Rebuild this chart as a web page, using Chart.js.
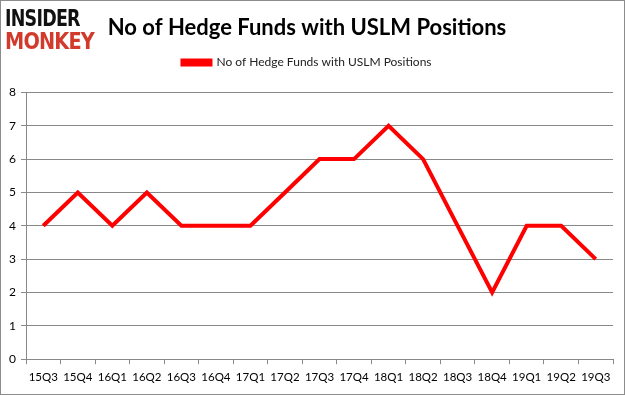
<!DOCTYPE html>
<html>
<head>
<meta charset="utf-8">
<script src="https://cdn.jsdelivr.net/npm/chart.js@4"></script>
<style>
  html, body { margin: 0; padding: 0; background: #fff; }
  #wrap { position: relative; width: 625px; height: 395px; box-sizing: border-box; border: 1px solid #8c8c8c; overflow: hidden; }
  #c { position: absolute; left: 0; top: 0; }
  .logo { position: absolute; left: 4px; font-family: "DejaVu Sans", sans-serif; font-weight: bold; font-size: 23px; line-height: 23px; letter-spacing: -1px; transform-origin: left top; }
  #l1 { top: 6px; color: #111; transform: scaleX(0.76); }
  #l2 { top: 29px; color: #d23b2b; transform: scaleX(0.84); }
</style>
</head>
<body>
<div id="wrap">
  <canvas id="c" width="623" height="393"></canvas>
  <div class="logo" id="l1">INSIDER</div>
  <div class="logo" id="l2">MONKEY</div>
</div>
<script>
const categories = ["15Q3","15Q4","16Q1","16Q2","16Q3","16Q4","17Q1","17Q2","17Q3","17Q4","18Q1","18Q2","18Q3","18Q4","19Q1","19Q2","19Q3"];
const seriesName = "No of Hedge Funds with USLM Positions";
const values = [4,5,4,5,4,4,4,5,6,6,7,6,4,2,4,4,3];
const yTicks = [0,1,2,3,4,5,6,7,8];
const titleText = "No of Hedge Funds with USLM Positions";

const legendGap = {
  id: 'legendGap',
  beforeUpdate(chart) {
    const lg = chart.legend;
    if (lg && !lg._gapPatched) {
      const orig = lg.fit;
      lg.fit = function () { orig.call(this); this.height += 14; };
      lg._gapPatched = true;
    }
  }
};

new Chart(document.getElementById('c'), {
  type: 'line',
  data: {
    labels: categories,
    datasets: [{
      label: seriesName,
      data: values,
      borderColor: '#ff0000',
      backgroundColor: '#ff0000',
      borderWidth: 4,
      pointRadius: 0,
      tension: 0,
      fill: false
    }]
  },
  options: {
    responsive: false,
    animation: false,
    devicePixelRatio: 1,
    layout: { padding: { left: 0, right: 11, top: 8, bottom: 4 } },
    plugins: {
      title: {
        display: true,
        text: titleText,
        color: '#000',
        font: { family: 'Lato', size: 22, weight: 'bold' },
        padding: { top: 6, bottom: 3 }
      },
      legend: {
        display: true,
        labels: {
          color: '#222',
          font: { family: 'Lato', size: 12 },
          boxWidth: 28,
          boxHeight: 4,
          padding: 12,
          usePointStyle: false
        }
      },
      tooltip: { enabled: false }
    },
    scales: {
      x: {
        offset: true,
        grid: { offset: true, drawOnChartArea: false, drawTicks: true, tickLength: 5, color: '#888' },
        border: { color: '#888', width: 1 },
        ticks: { color: '#000', font: { family: 'Lato', size: 11.5 }, padding: 6, maxRotation: 0, autoSkip: false }
      },
      y: {
        min: 0, max: 8,
        afterBuildTicks: (s) => { s.ticks = yTicks.map(v => ({ value: v })); },
        afterFit: (s) => { s.width = 25; },
        grid: { color: '#888', tickLength: 5, drawTicks: true },
        border: { color: '#888', width: 1 },
        ticks: { color: '#000', font: { family: 'Lato', size: 12 }, padding: 5 }
      }
    }
  },
  plugins: [legendGap]
});
</script>
</body>
</html>
